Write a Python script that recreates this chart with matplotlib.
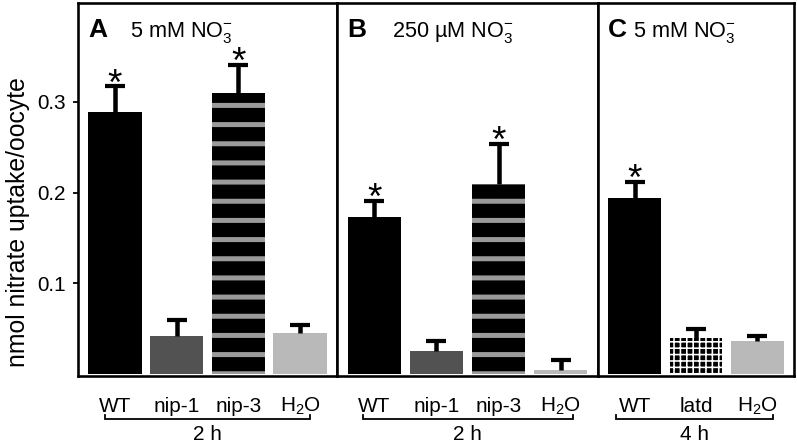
import matplotlib
matplotlib.use('Agg')
import matplotlib.pyplot as plt
from matplotlib import font_manager
from matplotlib.transforms import blended_transform_factory
import numpy as np

# ---------------- data ----------------
labels_A = ['WT', 'nip-1', 'nip-3', 'H$_2$O']
values_A = [0.289, 0.042, 0.310, 0.045]
errors_A = [0.028, 0.018, 0.031, 0.009]
signif_A = [True, False, True, False]

labels_B = ['WT', 'nip-1', 'nip-3', 'H$_2$O']
values_B = [0.173, 0.026, 0.210, 0.005]
errors_B = [0.018, 0.011, 0.044, 0.011]
signif_B = [True, False, True, False]

labels_C = ['WT', 'latd', 'H$_2$O']
values_C = [0.194, 0.040, 0.037]
errors_C = [0.018, 0.010, 0.005]
signif_C = [True, False, False]

yticks = [0.1, 0.2, 0.3]
ytick_labels = ['0.1', '0.2', '0.3']
group_A = '2 h'
group_B = '2 h'
group_C = '4 h'
title_A = ('A', '5 mM NO$_3^{-}$')
title_B = ('B', '250 µM NO$_3^{-}$')
title_C = ('C', '5 mM NO$_3^{-}$')
ylabel = 'nmol nitrate uptake/oocyte'

# ---------------- style ----------------
names = {f.name for f in font_manager.fontManager.ttflist}
NARROW = 'Liberation Sans Narrow' if 'Liberation Sans Narrow' in names else 'Liberation Sans'
BOLD = 'Liberation Sans'
plt.rcParams['font.family'] = [NARROW, 'DejaVu Sans']
plt.rcParams['mathtext.fontset'] = 'custom'
plt.rcParams['mathtext.rm'] = NARROW
plt.rcParams['mathtext.it'] = NARROW
plt.rcParams['mathtext.default'] = 'rm'

DPI = 115
W, H = 797, 445
def pt(px):
    return px * 72.0 / DPI

fig = plt.figure(figsize=(W / DPI, H / DPI), dpi=DPI)

def axes_px(left, right, top=3, bottom=376):
    return fig.add_axes([left / W, 1 - bottom / H, (right - left) / W, (bottom - top) / H])

axA = axes_px(78, 337)
axB = axes_px(337, 598)
axC = axes_px(598, 794)

STYLE_SOLID = lambda c: dict(color=c)
STYLE_STRIPE = dict(color='black', edgecolor='#9a9a9a', hatch='-', hlw=pt(5.0))
STYLE_GRID = dict(color='black', edgecolor='white', hatch='+++', hlw=pt(1.6))

styles_AB = [STYLE_SOLID('black'), STYLE_SOLID('#525252'), STYLE_STRIPE, STYLE_SOLID('#b9b9b9')]
styles_C = [STYLE_SOLID('black'), STYLE_GRID, STYLE_SOLID('#b9b9b9')]

BAR_W = 0.86
LABEL_FS = 13

def panel(ax, labels, values, errors, signif, styles, title, group, xlim, bracket, title_dx):
    x = np.arange(len(values))
    for xi, v, st in zip(x, values, styles):
        st = dict(st)
        hlw = st.pop('hlw', None)
        if hlw is not None:
            plt.rcParams['hatch.linewidth'] = hlw
        b = ax.bar([xi], [v], width=BAR_W, linewidth=0, zorder=2, **st)
        if hlw is not None:
            for p in b.patches:
                if hasattr(p, 'set_hatch_linewidth'):
                    p.set_hatch_linewidth(hlw)
    eb = ax.errorbar(x, values, yerr=[np.zeros(len(values)), errors], fmt='none',
                     ecolor='black', elinewidth=pt(4.5), capsize=pt(10),
                     capthick=pt(4.2), zorder=3)
    caps = eb[1]
    if len(caps) >= 2:
        caps[0].set_visible(False)   # hide lower caps (at bar tops)
    for xi, v, e, s in zip(x, values, errors, signif):
        if s:
            ax.annotate('*', (xi, v + e), xytext=(0, pt(-8)), textcoords='offset points',
                        ha='center', va='baseline', fontsize=23,
                        family=[BOLD, 'DejaVu Sans'])
    ax.set_xlim(*xlim)
    ax.set_ylim(-0.002, 0.409)
    ax.set_xticks([])
    for sp in ax.spines.values():
        sp.set_linewidth(pt(2.6))
    # category labels
    tr = blended_transform_factory(ax.transData, ax.transAxes)
    hpx = 373.0
    for xi, lab in zip(x, labels):
        ax.text(xi, -36 / hpx, lab, transform=tr, ha='center', va='baseline',
                fontsize=LABEL_FS)
    # bracket
    yb = -43 / hpx
    yt = -39 / hpx
    ax.plot([bracket[0], bracket[0], bracket[1], bracket[1]], [yt, yb, yb, yt],
            transform=tr, color='black', lw=pt(1.8), clip_on=False,
            solid_joinstyle='miter')
    ax.text((bracket[0] + bracket[1]) / 2, -64 / hpx, group, transform=tr,
            ha='center', va='baseline', fontsize=LABEL_FS)
    # titles
    ax.annotate(title[0], (0, 1), xycoords='axes fraction', xytext=(pt(10), pt(-34)),
                textcoords='offset points', ha='left', va='baseline', fontsize=16.5,
                fontweight='bold', family=[BOLD, 'DejaVu Sans'])
    ax.annotate(title[1], (0, 1), xycoords='axes fraction', xytext=(pt(title_dx), pt(-34)),
                textcoords='offset points', ha='left', va='baseline', fontsize=13.5)

panel(axA, labels_A, values_A, errors_A, signif_A, styles_AB, title_A, group_A,
      (-0.6, 3.6), (-0.17, 3.17), 52)
panel(axB, labels_B, values_B, errors_B, signif_B, styles_AB, title_B, group_B,
      (-0.6, 3.6), (-0.18, 3.19), 55)
panel(axC, labels_C, values_C, errors_C, signif_C, styles_C, title_C, group_C,
      (-0.6, 2.6), (-0.3, 2.26), 35)

axA.set_yticks(yticks)
axA.set_yticklabels(ytick_labels)
axA.tick_params(axis='y', direction='out', length=pt(5), width=pt(1.8), pad=pt(7),
                labelsize=13)
for ax in (axB, axC):
    ax.set_yticks([])

fig.text(18 / W, 1 - 222 / H, ylabel, rotation=90, ha='center', va='center', fontsize=15.5)

fig.savefig('out.png', dpi=DPI)
